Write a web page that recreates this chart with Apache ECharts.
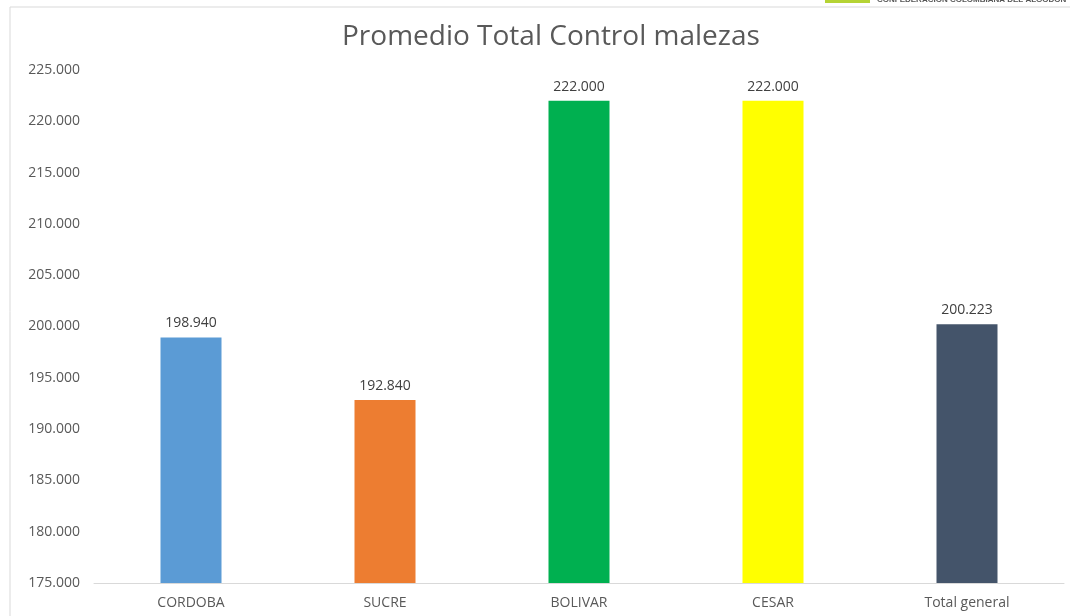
<!DOCTYPE html>
<html>
<head>
<meta charset="utf-8">
<script src="https://cdn.jsdelivr.net/npm/echarts@6/dist/echarts.min.js"></script>
<style>
  html, body { margin: 0; padding: 0; background: #fff; }
  #main { width: 1070px; height: 616px; }
</style>
</head>
<body>
<div id="main"></div>
<script>
var categories = ['CORDOBA', 'SUCRE', 'BOLIVAR', 'CESAR', 'Total general'];
var values = [198940, 192840, 222000, 222000, 200223];
var barColors = ['#5B9BD5', '#ED7D31', '#00B050', '#FFFF00', '#44546A'];

function fmt(v) {
    // miles con punto, como en el original
    return String(Math.round(v)).replace(/\B(?=(\d{3})+(?!\d))/g, '.');
}

var dom = document.getElementById('main');
var myChart = echarts.init(dom);
var option = {
    backgroundColor: '#fff',
    animation: false,
    title: {
        text: 'Promedio Total Control malezas',
        left: 337,
        top: 18,
        textStyle: {
            fontFamily: 'Open Sans',
            fontSize: 28,
            fontWeight: 'normal',
            color: '#595959'
        }
    },
    graphic: [
        {
            type: 'polyline',
            shape: { points: [[10, 616], [10, 7], [1070, 7]] },
            style: { stroke: '#d9d9d9', fill: null, lineWidth: 1 }
        },
        {
            type: 'rect',
            shape: { x: 825, y: 0, width: 45, height: 3 },
            style: { fill: '#b5d334' }
        },
        {
            type: 'text',
            left: 877,
            top: -4,
            style: {
                text: 'CONFEDERACIÓN COLOMBIANA DEL ALGODÓN',
                fontSize: 8,
                fontWeight: 'bold',
                fill: '#555',
                fontFamily: 'Liberation Sans'
            }
        }
    ],
    grid: {
        left: 94,
        right: 6,
        top: 70,
        bottom: 33
    },
    xAxis: {
        type: 'category',
        data: categories,
        axisLine: { lineStyle: { color: '#d9d9d9' } },
        axisTick: { show: false },
        axisLabel: {
            color: '#595959',
            fontFamily: 'Open Sans',
            fontSize: 14,
            margin: 13
        }
    },
    yAxis: {
        type: 'value',
        min: 175000,
        max: 225000,
        interval: 5000,
        splitLine: { show: false },
        axisLine: { show: false },
        axisTick: { show: false },
        axisLabel: {
            color: '#595959',
            fontFamily: 'Open Sans',
            fontSize: 14,
            margin: 14,
            formatter: fmt
        }
    },
    series: [{
        type: 'bar',
        barWidth: 61,
        data: values.map(function (v, i) {
            return { value: v, itemStyle: { color: barColors[i] } };
        }),
        label: {
            show: true,
            position: 'top',
            distance: 7,
            color: '#404040',
            fontFamily: 'Open Sans',
            fontSize: 14,
            formatter: function (p) { return fmt(p.value); }
        }
    }]
};
myChart.setOption(option, true);
</script>
</body>
</html>
